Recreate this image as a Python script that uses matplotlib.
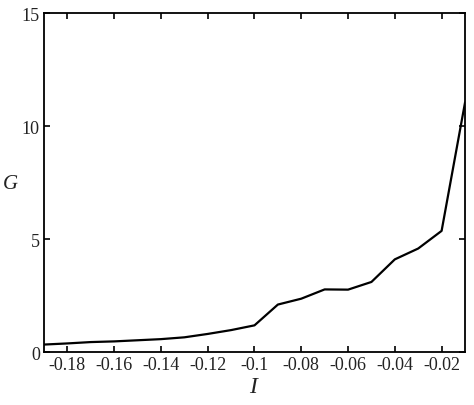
import numpy as np
import matplotlib
matplotlib.use('Agg')
import matplotlib.pyplot as plt

plt.rcParams['font.family'] = ['Liberation Serif', 'DejaVu Serif']
plt.rcParams['mathtext.fontset'] = 'custom'
plt.rcParams['mathtext.it'] = 'Liberation Serif:italic'

I_vals = [-0.19, -0.18, -0.17, -0.16, -0.15, -0.14, -0.13, -0.12, -0.11, -0.10,
          -0.09, -0.08, -0.07, -0.06, -0.05, -0.04, -0.03, -0.02, -0.01]
G_vals = [0.33, 0.38, 0.44, 0.47, 0.52, 0.57, 0.65, 0.80, 0.97, 1.18,
          2.10, 2.36, 2.77, 2.76, 3.10, 4.10, 4.58, 5.36, 11.03]
x_ticks = [-0.18, -0.16, -0.14, -0.12, -0.1, -0.08, -0.06, -0.04, -0.02]
x_labels = ['-0.18', '-0.16', '-0.14', '-0.12', '-0.1', '-0.08', '-0.06', '-0.04', '-0.02']
y_ticks = [0, 5, 10, 15]

fig = plt.figure(figsize=(4.74, 4.06), dpi=100)
ax = fig.add_axes([0.0928, 0.1305, 0.8882, 0.835])
ax.plot(I_vals, G_vals, color='k', linewidth=1.6)

ax.set_xlim(-0.19, -0.01)
ax.set_ylim(0, 15)
ax.set_xticks(x_ticks)
ax.set_xticklabels(x_labels)
ax.set_yticks(y_ticks)
ax.tick_params(direction='in', top=True, right=True, length=4, width=1.2,
               labelsize=13, pad=3, labelcolor='#222222')
for s in ax.spines.values():
    s.set_linewidth(1.3)

ax.set_xlabel('$I$', fontsize=17, labelpad=2, color='#222222')
ax.set_ylabel('$G$', fontsize=15, rotation=0, va='center', ha='center',
              color='#222222')
ax.yaxis.set_label_coords(-0.081, 0.497)

fig.savefig('out.png', dpi=100)
